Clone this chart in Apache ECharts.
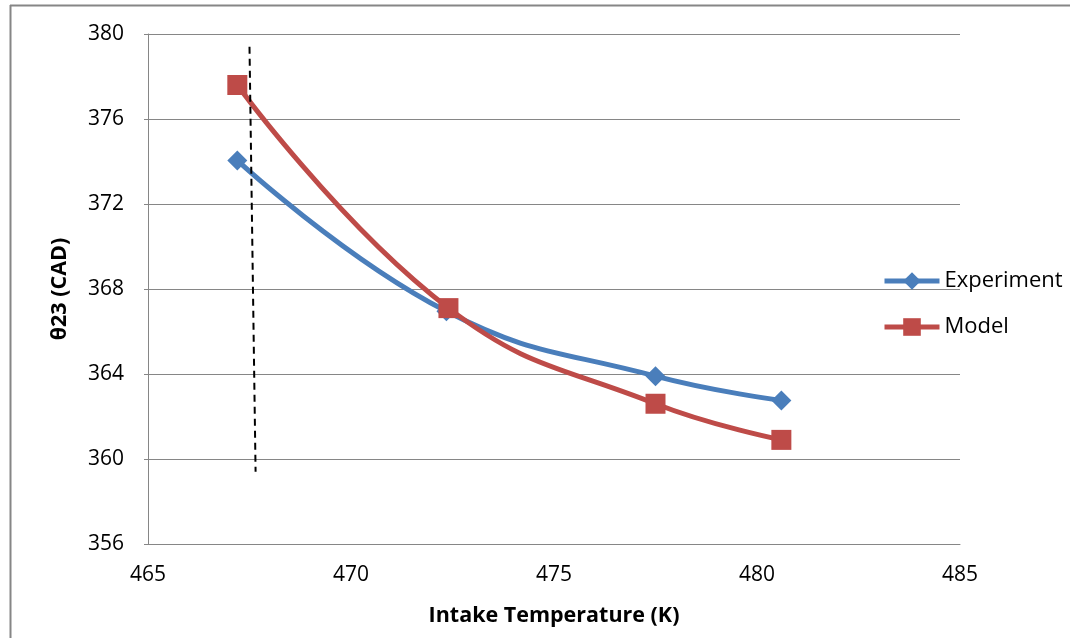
<!DOCTYPE html>
<html>
<head>
<meta charset="utf-8">
<script src="https://cdn.jsdelivr.net/npm/echarts@6/dist/echarts.min.js"></script>
<style>html,body{margin:0;padding:0;background:#fff;}#chart{width:1070px;height:638px;}</style>
</head>
<body>
<div id="chart"></div>
<script>
const seriesNames = ['Experiment', 'Model'];
const experimentX = [467.2, 472.35, 477.5, 480.6];
const experimentY = [374.05, 366.95, 363.9, 362.75];
const modelX = [467.2, 472.4, 477.5, 480.6];
const modelY = [377.6, 367.1, 362.6, 360.9];
const guideX = [467.5, 467.65];
const guideY = [379.4, 359.4];
const xTicks = [465, 470, 475, 480, 485];
const yTicks = [356, 360, 364, 368, 372, 376, 380];

const zip = (xs, ys) => xs.map((x, i) => [x, ys[i]]);
const font = '"Open Sans", "Noto Sans", sans-serif';

const chart = echarts.init(document.getElementById('chart'));
chart.setOption({
  animation: false,
  backgroundColor: '#fff',
  textStyle: { fontFamily: font },
  graphic: [
    { type: 'line', shape: { x1: 10.5, y1: 5, x2: 10.5, y2: 638 }, style: { stroke: '#868686', lineWidth: 2 } },
    { type: 'line', shape: { x1: 10, y1: 5.5, x2: 1070, y2: 5.5 }, style: { stroke: '#868686', lineWidth: 2 } }
  ],
  grid: { left: 148, right: 110, top: 34, bottom: 94, containLabel: false },
  legend: {
    orient: 'vertical',
    left: 877,
    top: 265,
    itemWidth: 55,
    itemHeight: 22,
    itemGap: 24,
    data: seriesNames,
    lineStyle: { width: 5 },
    textStyle: { fontSize: 22, color: '#000', fontFamily: font }
  },
  xAxis: {
    type: 'value',
    min: xTicks[0],
    max: xTicks[xTicks.length - 1],
    interval: 5,
    name: 'Intake Temperature (K)',
    nameLocation: 'middle',
    nameGap: 61,
    nameTextStyle: { fontSize: 21.5, fontWeight: 'bold', color: '#000', fontFamily: font },
    axisLine: { show: true, lineStyle: { color: '#868686', width: 1 } },
    axisTick: { show: false },
    splitLine: { show: false },
    axisLabel: { fontSize: 21, color: '#000', margin: 21, fontFamily: font }
  },
  yAxis: {
    type: 'value',
    min: yTicks[0],
    max: yTicks[yTicks.length - 1],
    interval: 4,
    name: 'θ23 (CAD)',
    nameLocation: 'middle',
    nameGap: 77,
    nameTextStyle: { fontSize: 21.5, fontWeight: 'bold', color: '#000', fontFamily: font },
    axisLine: { show: true, lineStyle: { color: '#868686', width: 1 } },
    axisTick: { show: true, length: 4, lineStyle: { color: '#868686' } },
    splitLine: { show: true, lineStyle: { color: '#868686', width: 1 } },
    axisLabel: { fontSize: 21, color: '#000', margin: 24, fontFamily: font }
  },
  series: [
    {
      name: seriesNames[0],
      type: 'line',
      data: zip(experimentX, experimentY),
      smooth: 0.45,
      symbol: 'diamond',
      symbolSize: 20,
      color: '#4A7EBB',
      lineStyle: { width: 5, color: '#4A7EBB' },
      itemStyle: { color: '#4A7EBB' },
      z: 3
    },
    {
      name: seriesNames[1],
      type: 'line',
      data: zip(modelX, modelY),
      smooth: 0.45,
      symbol: 'rect',
      symbolSize: 20,
      color: '#BE4B48',
      lineStyle: { width: 5, color: '#BE4B48' },
      itemStyle: { color: '#BE4B48' },
      z: 4
    },
    {
      name: 'guide',
      type: 'line',
      data: zip(guideX, guideY),
      symbol: 'none',
      lineStyle: { color: '#000', width: 2, type: [7, 5] },
      z: 5,
      silent: true
    }
  ]
});
</script>
</body>
</html>
